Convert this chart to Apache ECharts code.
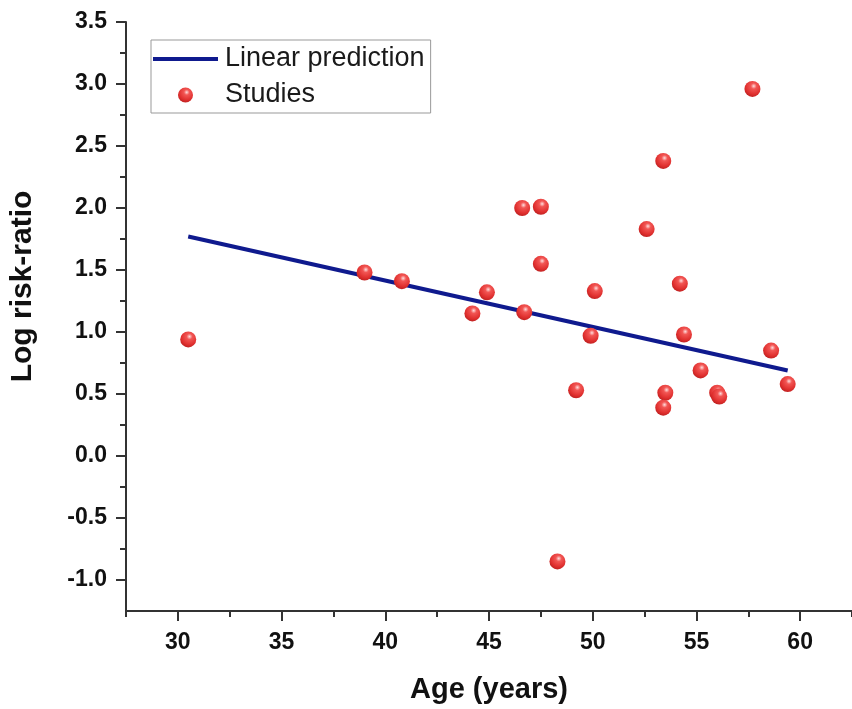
<!DOCTYPE html>
<html>
<head>
<meta charset="utf-8">
<script src="https://cdn.jsdelivr.net/npm/echarts@6/dist/echarts.min.js"></script>
<style>
  html, body { margin: 0; padding: 0; background: #fff; }
  #chart { width: 852px; height: 709px; }
</style>
</head>
<body>
<div id="chart"></div>
<script>
// studies: age (years) and log risk-ratio
var studyAge = [30.5, 39.0, 40.8, 44.2, 44.9, 46.6, 46.7, 47.5, 47.5, 48.3, 49.2, 49.9, 50.1,
  52.6, 53.4, 53.5, 53.4, 54.2, 54.4, 55.2, 56.0, 56.1, 57.7, 58.6, 59.4];
var studyLogRR = [0.94, 1.48, 1.41, 1.15, 1.32, 2.00, 1.16, 2.01, 1.55, -0.85, 0.53, 0.97, 1.33,
  1.83, 2.38, 0.51, 0.39, 1.39, 0.98, 0.69, 0.51, 0.48, 2.96, 0.85, 0.58];

// fitted line end points
var fitAge = [30.5, 59.4];
var fitLogRR = [1.77, 0.69];

// ticks
var xTicks = [30, 35, 40, 45, 50, 55, 60];
var xMinorTicks = [27.5, 32.5, 37.5, 42.5, 47.5, 52.5, 57.5, 62.5];
var yTicks = [-1.0, -0.5, 0.0, 0.5, 1.0, 1.5, 2.0, 2.5, 3.0, 3.5];
var yMinorTicks = [-0.75, -0.25, 0.25, 0.75, 1.25, 1.75, 2.25, 2.75, 3.25];

var axisColor = '#333';
var lineColor = '#0f1a8e';
var fontFamily = '"Liberation Sans", Arial, sans-serif';

var myChart = echarts.init(document.getElementById('chart'));

function xAxisBase(extra) {
  return Object.assign({
    type: 'value',
    min: 27.5,
    max: 62.5,
    position: 'bottom',
    splitLine: { show: false },
    axisLine: { show: true, onZero: false, lineStyle: { color: axisColor, width: 2 } }
  }, extra);
}
function yAxisBase(extra) {
  return Object.assign({
    type: 'value',
    min: -1.25,
    max: 3.5,
    position: 'left',
    splitLine: { show: false },
    axisLine: { show: true, onZero: false, lineStyle: { color: axisColor, width: 2 } }
  }, extra);
}

var option = {
  backgroundColor: '#fff',
  animation: false,
  grid: { left: 124, right: 0, top: 22, bottom: 98 },
  legend: {
    orient: 'vertical',
    left: 151,
    top: 40,
    padding: [5, 6, 4, 2],
    itemWidth: 65,
    itemHeight: 15,
    itemGap: 8,
    borderColor: '#999',
    borderWidth: 1,
    textStyle: { fontFamily: fontFamily, fontSize: 27, color: '#1a1a1a', lineHeight: 28, padding: [0, 0, 0, 2] },
    data: [
      { name: 'Linear prediction', icon: 'path://M0,0H65V4H0Z' },
      { name: 'Studies', icon: 'circle' }
    ]
  },
  xAxis: [
    xAxisBase({
      name: 'Age (years)',
      nameLocation: 'middle',
      nameGap: 64,
      nameTextStyle: { fontFamily: fontFamily, fontSize: 29, fontWeight: 'bold', color: '#111' },
      axisTick: { show: true, inside: false, length: 10, customValues: xTicks,
        lineStyle: { color: axisColor, width: 2 } },
      axisLabel: { show: true, margin: 20, customValues: xTicks,
        fontFamily: fontFamily, fontSize: 23, fontWeight: 'bold', color: '#111' }
    }),
    xAxisBase({
      axisLine: { show: false, onZero: false },
      axisTick: { show: true, inside: false, length: 6, customValues: xMinorTicks,
        lineStyle: { color: axisColor, width: 2 } },
      axisLabel: { show: false }
    })
  ],
  yAxis: [
    yAxisBase({
      name: 'Log risk-ratio',
      nameLocation: 'middle',
      nameGap: 88,
      nameTextStyle: { fontFamily: fontFamily, fontSize: 30, fontWeight: 'bold', color: '#111',
        padding: [0, 0, 0, 60] },
      axisTick: { show: true, inside: false, length: 10, customValues: yTicks,
        lineStyle: { color: axisColor, width: 2 } },
      axisLabel: { show: true, margin: 19, customValues: yTicks,
        formatter: function (v) { return v.toFixed(1); },
        fontFamily: fontFamily, fontSize: 23, fontWeight: 'bold', color: '#111' }
    }),
    yAxisBase({
      axisLine: { show: false, onZero: false },
      axisTick: { show: true, inside: false, length: 6, customValues: yMinorTicks,
        lineStyle: { color: axisColor, width: 2 } },
      axisLabel: { show: false }
    })
  ],
  series: [
    {
      name: 'Linear prediction',
      type: 'line',
      symbol: 'none',
      data: fitAge.map(function (a, i) { return [a, fitLogRR[i]]; }),
      lineStyle: { color: lineColor, width: 4 },
      itemStyle: { color: lineColor },
      z: 2
    },
    {
      name: 'Studies',
      type: 'scatter',
      symbol: 'circle',
      symbolSize: 16,
      data: studyAge.map(function (a, i) { return [a, studyLogRR[i]]; }),
      itemStyle: {
        color: {
          type: 'radial', x: 0.58, y: 0.32, r: 0.72,
          colorStops: [
            { offset: 0, color: '#ffdede' },
            { offset: 0.25, color: '#f25654' },
            { offset: 0.7, color: '#e0302f' },
            { offset: 1, color: '#bb1f1f' }
          ]
        },
        opacity: 1
      },
      z: 3
    }
  ]
};
myChart.setOption(option);
</script>
</body>
</html>
